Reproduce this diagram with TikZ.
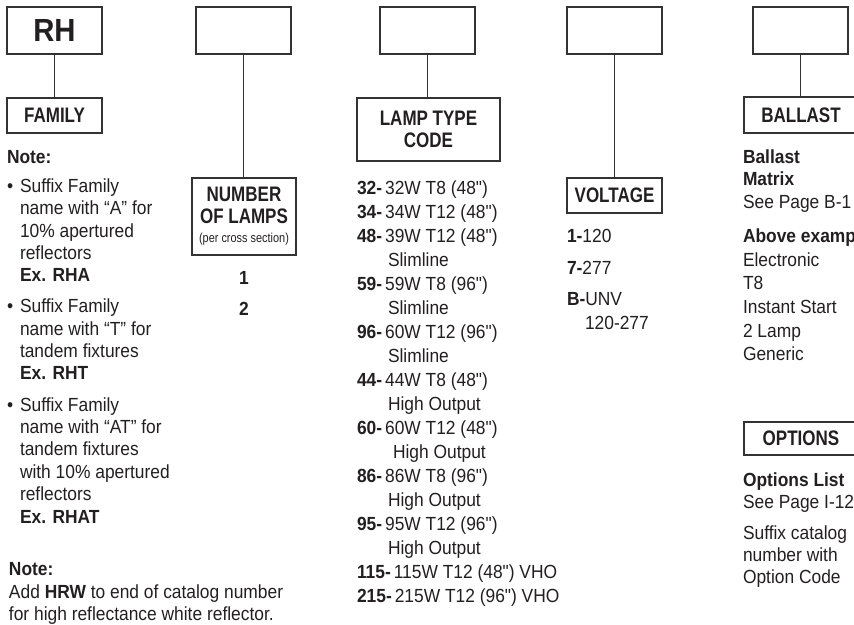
\documentclass[tikz,border=0pt]{standalone}
\usepackage{fontspec}
\setmainfont[FakeStretch=0.915,Ligatures=TeXOff]{Liberation Sans}
\newfontfamily\headfont[FakeStretch=0.81,Ligatures=TeXOff]{Liberation Sans}
\definecolor{txtc}{HTML}{231F20}
\definecolor{linec}{HTML}{333333}
\newcommand\bodyfont{\fontsize{19}{22}\selectfont}
\newcommand\cd[1]{\textbf{#1}\kern3pt}
\begin{document}
\begin{tikzpicture}[x=1pt,y=-1pt,
  box/.style={draw=linec, line width=1.3pt, inner sep=0pt, outer sep=0pt, text=txtc},
  hd/.style={font=\headfont\bfseries\fontsize{21}{22}\selectfont},
  tx/.style={anchor=base west, inner sep=0pt, outer sep=0pt, text=txtc, font=\bodyfont},
  ctx/.style={tx, anchor=base},
  conn/.style={draw=linec, line width=1.3pt}]
\useasboundingbox (0,0) rectangle (854,624);
\clip (0,0) rectangle (854,624);

% top boxes
\node[box, minimum width=95pt, minimum height=47pt, font=\bfseries\fontsize{32}{34}\selectfont] (b1) at (54.5,30.5) {RH};
\node[box, minimum width=95pt, minimum height=47pt] (b2) at (243.5,30.5) {};
\node[box, minimum width=95pt, minimum height=47pt] (b3) at (427.5,30.5) {};
\node[box, minimum width=95pt, minimum height=47pt] (b4) at (614.5,30.5) {};
\node[box, minimum width=95pt, minimum height=47pt] (b5) at (800.5,30.5) {};

% label boxes
\node[box, hd, minimum width=95pt, minimum height=35pt] (fam) at (54.5,115.5) {FAMILY};
\node[box, hd, minimum width=104pt, minimum height=77pt, align=center] (num) at (244,216.5)
  {NUMBER\\OF LAMPS\\[-3pt]{\normalfont\fontsize{13}{14}\selectfont\addfontfeature{FakeStretch=0.84}(per cross section)}};
\node[box, hd, minimum width=143pt, minimum height=63pt, align=center] (lamp) at (428.5,129.5) {LAMP TYPE\\CODE};
\node[box, hd, minimum width=95pt, minimum height=35pt] (volt) at (614.5,195.5) {VOLTAGE};
\node[box, hd, minimum width=114pt, minimum height=36pt] (ball) at (801,115) {BALLAST};
\node[box, hd, minimum width=114pt, minimum height=33pt] (opt) at (801,438.5) {OPTIONS};

% connectors
\draw[conn] (b1.south) -- (b1.south |- fam.north);
\draw[conn] (b2.south) -- (b2.south |- num.north);
\draw[conn] (b3.south) -- (b3.south |- lamp.north);
\draw[conn] (b4.south) -- (b4.south |- volt.north);
\draw[conn] (b5.south) -- (b5.south |- ball.north);

% family notes
\node[tx, font=\bodyfont\bfseries] (note1) at (7,163) {Note:};
\foreach \y [count=\i] in {192,312,411}
  \node[tx] (bul\i) at (7,\y) {•};
\foreach \y/\t [count=\i] in {192/{Suffix Family}, 214/{name with “A” for}, 237/{10\% apertured},
  259/{reflectors}, 281/{\textbf{Ex. RHA}}, 312/{Suffix Family}, 335/{name with “T” for},
  357/{tandem fixtures}, 379/{\textbf{Ex. RHT}}, 411/{Suffix Family}, 433/{name with “AT” for},
  455/{tandem fixtures}, 478/{with 10\% apertured}, 500/{reflectors}, 523/{\textbf{Ex. RHAT}}}
  \node[tx] (fl\i) at (20,\y) {\t};
\node[tx, font=\bodyfont\bfseries] (note2) at (9,575) {Note:};
\node[tx] (hrw1) at (9,598) {Add \textbf{HRW} to end of catalog number};
\node[tx] (hrw2) at (9,620) {for high reflectance white reflector.};

% number of lamps
\node[ctx, font=\bodyfont\bfseries] (n1) at (244,284) {1};
\node[ctx, font=\bodyfont\bfseries] (n2) at (244,315) {2};

% lamp type list
\foreach \x/\t [count=\i] in {357/{\cd{32-}32W T8 (48")}, 357/{\cd{34-}34W T12 (48")},
  357/{\cd{48-}39W T12 (48")}, 388/{Slimline}, 357/{\cd{59-}59W T8 (96")}, 388/{Slimline},
  357/{\cd{96-}60W T12 (96")}, 388/{Slimline}, 357/{\cd{44-}44W T8 (48")}, 388/{High Output},
  357/{\cd{60-}60W T12 (48")}, 393/{High Output}, 357/{\cd{86-}86W T8 (96")}, 388/{High Output},
  357/{\cd{95-}95W T12 (96")}, 388/{High Output}, 357/{\cd{115-}115W T12 (48") VHO},
  357/{\cd{215-}215W T12 (96") VHO}}
  \node[tx] (lt\i) at (\x,{194+24*\i-24}) {\t};

% voltage
\node[tx] (v1) at (567,242) {\textbf{1-}120};
\node[tx] (v2) at (567,274) {\textbf{7-}277};
\node[tx] (v3) at (567,305) {\textbf{B-}UNV};
\node[tx] (v4) at (585,329) {120-277};

% ballast
\foreach \y/\t [count=\i] in {163/{\textbf{Ballast}}, 185/{\textbf{Matrix}}, 208/{See Page B-1},
  242/{\textbf{Above example}}, 266/{Electronic}, 289/{T8}, 313/{Instant Start},
  337/{2 Lamp}, 360/{Generic}}
  \node[tx] (bl\i) at (743,\y) {\t};

% options
\foreach \y/\t [count=\i] in {486/{\textbf{Options List}}, 508/{See Page I-12},
  539/{Suffix catalog}, 561/{number with}, 583/{Option Code}}
  \node[tx] (op\i) at (743,\y) {\t};
\end{tikzpicture}
\end{document}
